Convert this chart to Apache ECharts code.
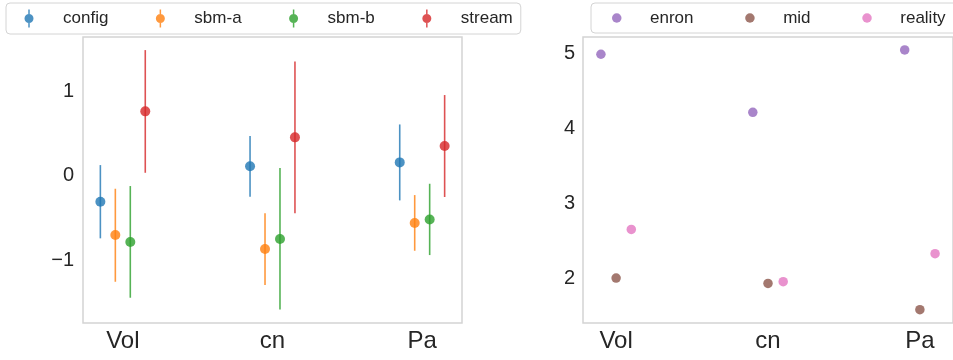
<!DOCTYPE html>
<html>
<head>
<meta charset="utf-8">
<script src="https://cdn.jsdelivr.net/npm/echarts@6/dist/echarts.min.js"></script>
<style>
  html, body { margin: 0; padding: 0; background: #ffffff; }
  #chart { width: 953px; height: 360px; }
</style>
</head>
<body>
<div id="chart"></div>
<script>
// Categories shared by both panels
const categories = ['Vol', 'cn', 'Pa'];

// Left panel: point estimates with confidence intervals
const leftGroups = ['config', 'sbm-a', 'sbm-b', 'stream'];
const configMean = [-0.31, 0.11, 0.156];
const configLow  = [-0.743, -0.25, -0.294];
const configHigh = [0.124, 0.467, 0.605];
const sbmAMean = [-0.704, -0.87, -0.562];
const sbmALow  = [-1.257, -1.296, -0.89];
const sbmAHigh = [-0.156, -0.447, -0.231];
const sbmBMean = [-0.787, -0.751, -0.519];
const sbmBLow  = [-1.446, -1.584, -0.941];
const sbmBHigh = [-0.124, 0.089, -0.097];
const streamMean = [0.76, 0.452, 0.349];
const streamLow  = [0.033, -0.447, -0.254];
const streamHigh = [1.485, 1.351, 0.953];
const leftTicks = [-1, 0, 1];

// Right panel: point values
const rightGroups = ['enron', 'mid', 'reality'];
const enronValues   = [4.99, 4.217, 5.048];
const midValues     = [2.008, 1.937, 1.587];
const realityValues = [2.657, 1.96, 2.333];
const rightTicks = [2, 3, 4, 5];

const leftColors  = ['#1f77b4', '#ff7f0e', '#2ca02c', '#d62728'];
const rightColors = ['#9467bd', '#8c564b', '#e377c2'];

const leftData = [
  { mean: configMean, low: configLow, high: configHigh },
  { mean: sbmAMean, low: sbmALow, high: sbmAHigh },
  { mean: sbmBMean, low: sbmBLow, high: sbmBHigh },
  { mean: streamMean, low: streamLow, high: streamHigh }
];
const rightData = [enronValues, midValues, realityValues];

const FONT = "'Liberation Sans', Arial, sans-serif";
const TEXT = '#262626';
const FRAME = '#d4d4d4';
const ALPHA = 0.8;

// Dodge offset for each group within a category
const dodge = (i, n) => (i - (n - 1) / 2) * 0.1;

const minus = v => (v < 0 ? '\u2212' + Math.abs(v) : String(v));

// Legend icon: dot with a vertical whisker
const whiskerIcon = 'path://M-0.75,-9 L0.75,-9 L0.75,-4 L-0.75,-4 Z M-0.75,4 L0.75,4 L0.75,9 L-0.75,9 Z M-4.5,0 A4.5,4.5 0 1,1 4.5,0 A4.5,4.5 0 1,1 -4.5,0 Z';

const series = [];
leftGroups.forEach((name, gi) => {
  const off = dodge(gi, leftGroups.length);
  const d = leftData[gi];
  series.push({
    name: name,
    type: 'custom',
    xAxisIndex: 0, yAxisIndex: 0,
    z: 2,
    data: categories.map((c, ci) => [ci + off, d.low[ci], d.high[ci]]),
    encode: { x: 0, y: [1, 2] },
    renderItem: (params, api) => {
      const x = api.value(0);
      const p1 = api.coord([x, api.value(1)]);
      const p2 = api.coord([x, api.value(2)]);
      return {
        type: 'line',
        shape: { x1: p1[0], y1: p1[1], x2: p2[0], y2: p2[1] },
        style: { stroke: leftColors[gi], lineWidth: 1.6, opacity: ALPHA }
      };
    },
    silent: true
  });
  series.push({
    name: name,
    type: 'scatter',
    xAxisIndex: 0, yAxisIndex: 0,
    z: 3,
    symbolSize: 10,
    itemStyle: { color: leftColors[gi], opacity: ALPHA },
    data: categories.map((c, ci) => [ci + off, d.mean[ci]]),
    silent: true
  });
});
rightGroups.forEach((name, gi) => {
  const off = dodge(gi, rightGroups.length);
  series.push({
    name: name,
    type: 'scatter',
    xAxisIndex: 1, yAxisIndex: 1,
    symbolSize: 9.5,
    itemStyle: { color: rightColors[gi], opacity: ALPHA },
    data: categories.map((c, ci) => [ci + off, rightData[gi][ci]]),
    silent: true
  });
});

const xAxisBase = (idx, min, max) => ({
  type: 'value',
  gridIndex: idx,
  min: min, max: max,
  splitLine: { show: false },
  axisTick: { show: false },
  axisLine: { show: false },
  axisLabel: {
    customValues: [0, 1, 2],
    formatter: v => categories[Math.round(v)],
    color: TEXT, fontSize: 24, fontFamily: FONT, margin: 6
  }
});

const yAxisBase = (idx, min, max, ticks, margin) => ({
  type: 'value',
  gridIndex: idx,
  min: min, max: max,
  splitLine: { show: false },
  axisTick: { show: false },
  axisLine: { show: false },
  axisLabel: {
    customValues: ticks,
    formatter: minus,
    color: TEXT, fontSize: 20, fontFamily: FONT, margin: margin
  }
});

const legendText = pad => ({
  color: TEXT, fontSize: 17, fontFamily: FONT, padding: [0, 0, 0, pad]
});

const option = {
  animation: false,
  backgroundColor: '#ffffff',
  grid: [
    { left: 83, top: 37, width: 379, height: 286, show: true, borderColor: FRAME, borderWidth: 1.5, backgroundColor: 'transparent' },
    { left: 583, top: 37, width: 380, height: 286, show: true, borderColor: FRAME, borderWidth: 1.5, backgroundColor: 'transparent' }
  ],
  xAxis: [xAxisBase(0, -0.266, 2.266), xAxisBase(1, -0.218, 2.218)],
  yAxis: [
    yAxisBase(0, -1.745, 1.64, leftTicks, 9),
    yAxisBase(1, 1.41, 5.22, rightTicks, 8)
  ],
  legend: [
    {
      left: 6, top: 3,
      width: 700,
      orient: 'horizontal',
      padding: [6.5, 8, 6.5, 18.5],
      itemGap: 47.5,
      itemWidth: 9, itemHeight: 18,
      borderColor: FRAME, borderWidth: 1, borderRadius: 4,
      backgroundColor: '#ffffff',
      textStyle: legendText(24.5),
      selectedMode: false,
      data: leftGroups.map((n, i) => ({
        name: n, icon: whiskerIcon,
        itemStyle: { color: leftColors[i], opacity: ALPHA }
      }))
    },
    {
      left: 591, top: 3,
      width: 700,
      orient: 'horizontal',
      padding: [6.5, 30, 6.5, 21],
      itemGap: 51.7,
      itemWidth: 9.5, itemHeight: 18,
      borderColor: FRAME, borderWidth: 1, borderRadius: 4,
      backgroundColor: '#ffffff',
      textStyle: legendText(23.5),
      selectedMode: false,
      data: rightGroups.map((n, i) => ({
        name: n, icon: 'circle',
        itemStyle: { color: rightColors[i], opacity: ALPHA }
      }))
    }
  ],
  series: series
};

const chart = echarts.init(document.getElementById('chart'), null, { renderer: 'canvas' });
chart.setOption(option);
</script>
</body>
</html>
